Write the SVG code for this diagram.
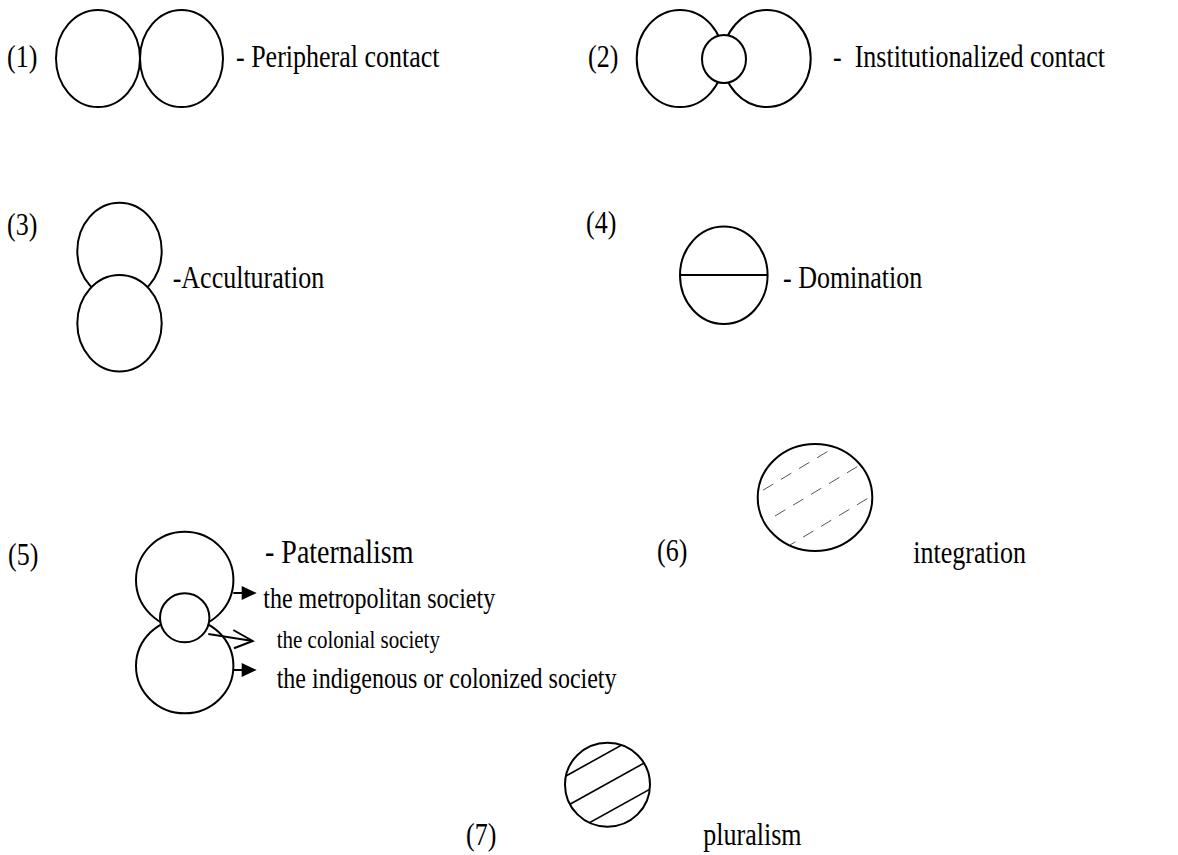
<svg xmlns="http://www.w3.org/2000/svg" width="1178" height="855" viewBox="0 0 1178 855">
<style>
.c{fill:#fff;stroke:#000;stroke-width:2}
.t{font-family:"Liberation Serif","Times New Roman",serif;fill:#000}
.L{font-size:26px}
.P{font-size:28px}
.M{font-size:24px}
.S{font-size:21px}
.arr{stroke:#000;stroke-width:2;fill:none}
.dash{stroke:#555;stroke-width:1;stroke-dasharray:12 9;fill:none}
.hat{stroke:#000;stroke-width:1.6;fill:none}
</style>
<defs>
<clipPath id="clip6"><ellipse cx="815" cy="497.5" rx="57.3" ry="53.5"/></clipPath>
<clipPath id="clip7"><ellipse cx="607.5" cy="784.7" rx="42.5" ry="42"/></clipPath>
</defs>
<rect width="1178" height="855" fill="#fff"/>

<g id="node1">
<ellipse class="c" cx="98" cy="58.5" rx="42" ry="48.5"/>
<ellipse class="c" cx="181.5" cy="58.5" rx="41.5" ry="48.5"/>
<text class="t L" transform="translate(7,67) scale(1,1.2)">(1)</text>
<text class="t L" transform="translate(236,67) scale(1,1.2)">- Peripheral contact</text>
</g>

<g id="node2">
<ellipse class="c" cx="680" cy="58.5" rx="43.3" ry="48.5"/>
<ellipse class="c" cx="766.7" cy="58.5" rx="44" ry="48.5"/>
<ellipse class="c" cx="724" cy="59" rx="22" ry="24"/>
<text class="t L" transform="translate(588,67) scale(1,1.2)">(2)</text>
<text class="t L" transform="translate(833,67) scale(1,1.2)" xml:space="preserve">-  Institutionalized contact</text>
</g>

<g id="node3">
<ellipse class="c" cx="119.5" cy="251" rx="42.2" ry="48.3"/>
<ellipse class="c" cx="119.5" cy="323.3" rx="42.2" ry="48.3"/>
<text class="t L" transform="translate(7,235) scale(1,1.2)">(3)</text>
<text class="t L" transform="translate(172.7,288) scale(1,1.2)">-Acculturation</text>
</g>

<g id="node4">
<ellipse class="c" cx="723.8" cy="275.3" rx="43.8" ry="48.7"/>
<line x1="680" y1="275" x2="767.6" y2="275" stroke="#000" stroke-width="2"/>
<text class="t L" transform="translate(586,233) scale(1,1.2)">(4)</text>
<text class="t L" transform="translate(783,288) scale(1,1.2)">- Domination</text>
</g>

<g id="node5">
<ellipse class="c" cx="184.7" cy="580" rx="48.7" ry="48.3"/>
<ellipse class="c" cx="184.7" cy="666" rx="48.7" ry="47.3"/>
<ellipse class="c" cx="184.7" cy="617.8" rx="24.7" ry="24.5"/>
<text class="t L" transform="translate(8,565) scale(1,1.2)">(5)</text>
<text class="t P" transform="translate(265,562.7) scale(1,1.2)">- Paternalism</text>
<text class="t M" transform="translate(263.3,608) scale(1,1.2)">the metropolitan society</text>
<text class="t S" transform="translate(276.7,648) scale(1,1.2)">the colonial society</text>
<text class="t M" transform="translate(276.7,688) scale(1,1.2)">the indigenous or colonized society</text>
</g>

<g id="node6">
<ellipse class="c" cx="815" cy="497.5" rx="57.3" ry="53.5"/>
<g clip-path="url(#clip6)">
<line class="dash" x1="745" y1="501" x2="845" y2="441"/>
<line class="dash" x1="775" y1="516" x2="880" y2="453"/>
<line class="dash" x1="785" y1="548" x2="885" y2="488"/>
</g>
<text class="t L" transform="translate(657,561) scale(1,1.2)">(6)</text>
<text class="t L" transform="translate(913.3,562.7) scale(1,1.2)">integration</text>
</g>

<g id="node7">
<ellipse class="c" cx="607.5" cy="784.7" rx="42.5" ry="42"/>
<g clip-path="url(#clip7)">
<line class="hat" x1="560" y1="779.3" x2="630" y2="740.4"/>
<line class="hat" x1="560" y1="809.8" x2="655" y2="757"/>
<line class="hat" x1="580" y1="828" x2="660" y2="783.5"/>
</g>
<text class="t L" transform="translate(466,845) scale(1,1.2)">(7)</text>
<text class="t L" transform="translate(703.3,845) scale(1,1.2)">pluralism</text>
</g>

<g id="connectors">
<line class="arr" x1="233.3" y1="593" x2="243" y2="593"/>
<polygon points="241.7,586 241.7,600 256.7,593" fill="#000"/>
<line class="arr" x1="233.3" y1="670" x2="243" y2="670"/>
<polygon points="241.7,663 241.7,677 256.7,670" fill="#000"/>
<line class="arr" x1="208.3" y1="634" x2="252.7" y2="641"/>
<polyline class="arr" points="233.3,630 252.7,641 234,648.3"/>
</g>
</svg>
